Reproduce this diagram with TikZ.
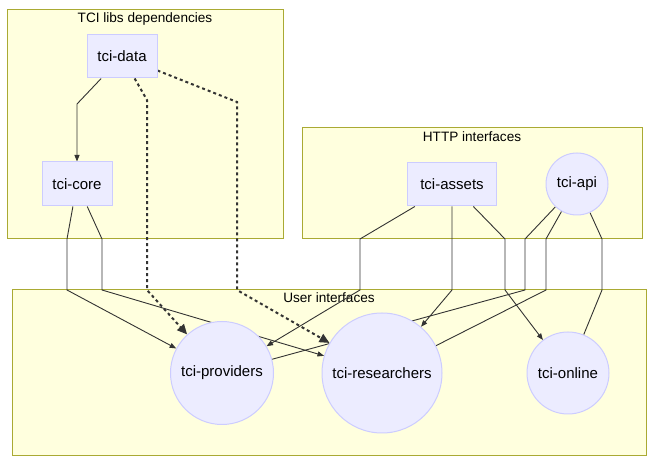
\documentclass[tikz,border=0pt]{standalone}
\usepackage{fontspec}
\setmainfont{Liberation Sans}
\usetikzlibrary{arrows.meta,backgrounds}
\pgfdeclarelayer{clusters}
\pgfdeclarelayer{edges}
\pgfsetlayers{clusters,edges,main}
\definecolor{clfill}{HTML}{FFFFDE}
\definecolor{cldraw}{HTML}{AAAA33}
\definecolor{ndfill}{HTML}{ECECFF}
\definecolor{nddraw}{HTML}{CCCCFF}
\definecolor{edgec}{HTML}{333333}
\tikzset{
  cluster/.style={draw=cldraw,fill=clfill,line width=1pt},
  cltitle/.style={font=\fontsize{13.6}{16}\selectfont,text=black,inner sep=0pt},
  boxnode/.style={draw=nddraw,fill=ndfill,line width=1pt,rectangle,inner sep=0pt,font=\fontsize{15}{18}\selectfont},
  circnode/.style={draw=nddraw,fill=ndfill,line width=1pt,circle,inner sep=0pt,font=\fontsize{15}{18}\selectfont},
  solidarr/.style={draw=edgec,line width=0.9pt,-{Triangle[length=6.5pt,width=5pt]}},
  plainlink/.style={draw=edgec,line width=0.9pt},
  dotarr/.style={draw=edgec,line width=2pt,dash pattern=on 3pt off 3pt,-{Triangle[length=10pt,width=9pt]}},
}
\begin{document}
\begin{tikzpicture}[x=1pt,y=-1pt]
\useasboundingbox (0,0) rectangle (654,470);
% nodes
\node[boxnode,minimum width=70pt,minimum height=43pt] (data) at (122,56.5) {tci-data};
\node[boxnode,minimum width=70pt,minimum height=44pt] (core) at (77,184) {tci-core};
\node[boxnode,minimum width=89pt,minimum height=43pt] (assets) at (452,184.5) {tci-assets};
\node[circnode,minimum size=62pt] (api) at (577,184) {tci-api};
\node[circnode,minimum size=103pt] (prov) at (222,373) {tci-providers};
\node[circnode,minimum size=120pt] (res) at (382,373) {tci-researchers};
\node[circnode,minimum size=82pt] (online) at (568,373) {tci-online};
% clusters
\begin{pgfonlayer}{clusters}
\draw[cluster] (7,10) rectangle (283,239);
\node[cltitle] (t1) at (145,19) {TCI libs dependencies};
\draw[cluster] (302,128) rectangle (642,239);
\node[cltitle] (t2) at (472,137) {HTTP interfaces};
\draw[cluster] (12,290) rectangle (646,456);
\node[cltitle] (t3) at (329,298) {User interfaces};
\end{pgfonlayer}
% edges
\begin{pgfonlayer}{edges}
\draw[solidarr] (data) -- (77,104) -- (core);
\draw[dotarr] (data) -- (147,100) -- (147,290) -- (prov);
\draw[dotarr] (data) -- (237,102) -- (237,290) -- (res);
\draw[solidarr] (core) -- (67,239) -- (67,290) -- (prov);
\draw[solidarr] (core) -- (102,239) -- (102,290) -- (res);
\draw[solidarr] (assets) -- (360,239) -- (360,290) -- (prov);
\draw[solidarr] (assets) -- (452,239) -- (452,290) -- (res);
\draw[solidarr] (assets) -- (505,239) -- (505,290) -- (online);
\draw[plainlink] (api) -- (525,239) -- (525,290) -- (prov);
\draw[plainlink] (api) -- (546,239) -- (546,290) -- (res);
\draw[plainlink] (api) -- (602,239) -- (602,290) -- (online);
\end{pgfonlayer}
\end{tikzpicture}
\end{document}
